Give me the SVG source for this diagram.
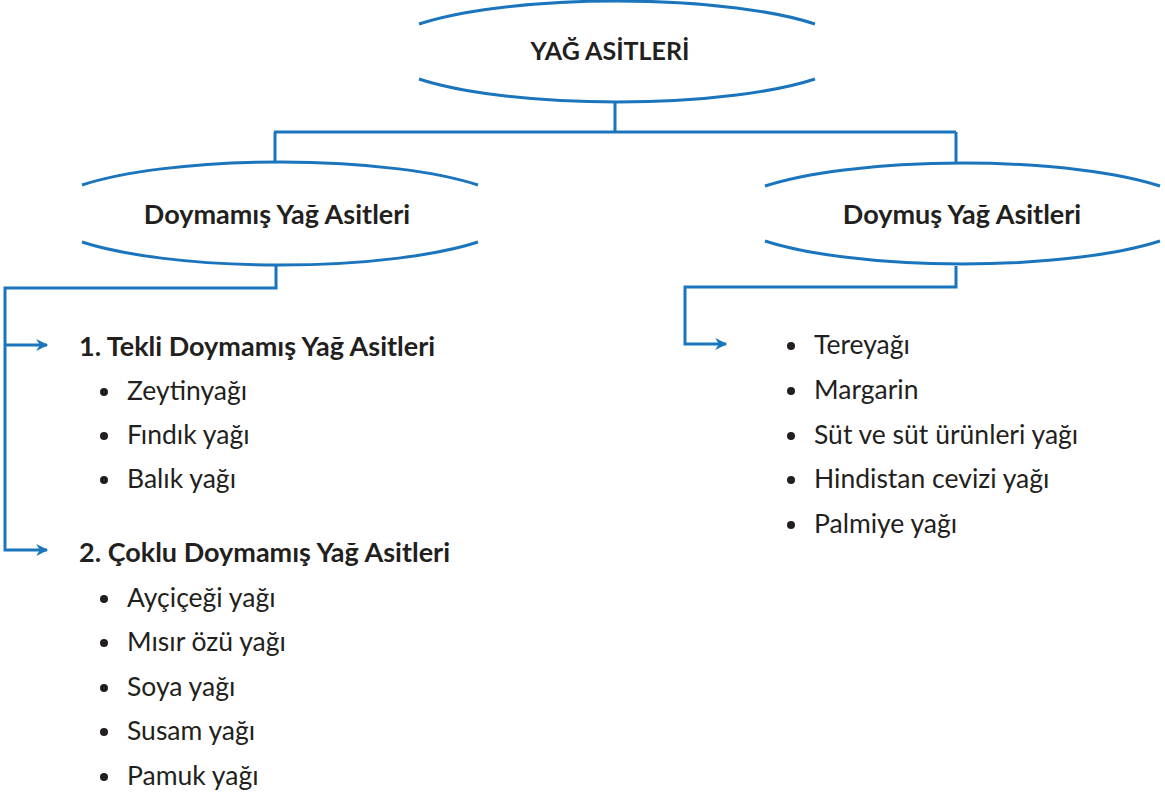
<svg xmlns="http://www.w3.org/2000/svg" width="1165" height="795" viewBox="0 0 1165 795">
<style>
.ln{fill:none;stroke:#1b75bc;stroke-width:3}
.t{font-family:Lato,"Liberation Sans",sans-serif;fill:#231f20}
.h{font-weight:bold;font-size:27px}
.ti{font-weight:bold;font-size:25px}
.i{font-size:26.5px}
.bul{fill:#231f20}
</style>
<defs>
<marker id="ah" viewBox="0 0 10 10" refX="9" refY="5" markerWidth="5.5" markerHeight="4" markerUnits="strokeWidth" orient="auto">
<path d="M0,0 L10,5 L0,10 L3,5 Z" fill="#1b75bc"/>
</marker>
</defs>
<rect width="1165" height="795" fill="#fff"/>
<g id="connectors">
<path class="ln" d="M615,102 V132 M274,132 H956 M275,132 V162 M956,132 V162"/>
<path class="ln" d="M276,266 V288 H5 V550 H47" marker-end="url(#ah)"/>
<path class="ln" d="M5,345 H47" marker-end="url(#ah)"/>
<path class="ln" d="M956,266 V287 H685 V344 H726" marker-end="url(#ah)"/>
</g>
<g id="root">
<path class="ln" d="M419,24 A236,50.5 0 0 1 815,24 M419,79 A236,50.5 0 0 0 815,79"/>
<text class="t ti" x="610" y="60" text-anchor="middle">YAĞ ASİTLERİ</text>
</g>
<g id="unsat">
<path class="ln" d="M82,185 A238.5,52 0 0 1 478,185 M82,242 A238.5,52 0 0 0 478,242"/>
<text class="t h" x="277" y="224" text-anchor="middle">Doymamış Yağ Asitleri</text>
</g>
<g id="sat">
<path class="ln" d="M765,186 A238,52 0 0 1 1160,186 M765,241 A238,52 0 0 0 1160,241"/>
<text class="t h" x="962" y="224" text-anchor="middle">Doymuş Yağ Asitleri</text>
</g>
<g id="mono">
<text class="t h" x="79" y="356">1. Tekli Doymamış Yağ Asitleri</text>
<g class="bul"><circle cx="104" cy="392" r="4"/><circle cx="104" cy="436" r="4"/><circle cx="104" cy="480" r="4"/></g>
<text class="t i" x="127" y="400">Zeytinyağı</text>
<text class="t i" x="127" y="444">Fındık yağı</text>
<text class="t i" x="127" y="488">Balık yağı</text>
</g>
<g id="poly">
<text class="t h" x="79" y="562">2. Çoklu Doymamış Yağ Asitleri</text>
<g class="bul"><circle cx="104" cy="599" r="4"/><circle cx="104" cy="643" r="4"/><circle cx="104" cy="688" r="4"/><circle cx="104" cy="732" r="4"/><circle cx="104" cy="777" r="4"/></g>
<text class="t i" x="127" y="607">Ayçiçeği yağı</text>
<text class="t i" x="127" y="651">Mısır özü yağı</text>
<text class="t i" x="127" y="696">Soya yağı</text>
<text class="t i" x="127" y="740">Susam yağı</text>
<text class="t i" x="127" y="785">Pamuk yağı</text>
</g>
<g id="satlist">
<g class="bul"><circle cx="791" cy="346" r="4"/><circle cx="791" cy="391" r="4"/><circle cx="791" cy="436" r="4"/><circle cx="791" cy="480" r="4"/><circle cx="791" cy="525" r="4"/></g>
<text class="t i" x="814" y="354">Tereyağı</text>
<text class="t i" x="814" y="399">Margarin</text>
<text class="t i" x="814" y="444">Süt ve süt ürünleri yağı</text>
<text class="t i" x="814" y="488">Hindistan cevizi yağı</text>
<text class="t i" x="814" y="533">Palmiye yağı</text>
</g>
</svg>
